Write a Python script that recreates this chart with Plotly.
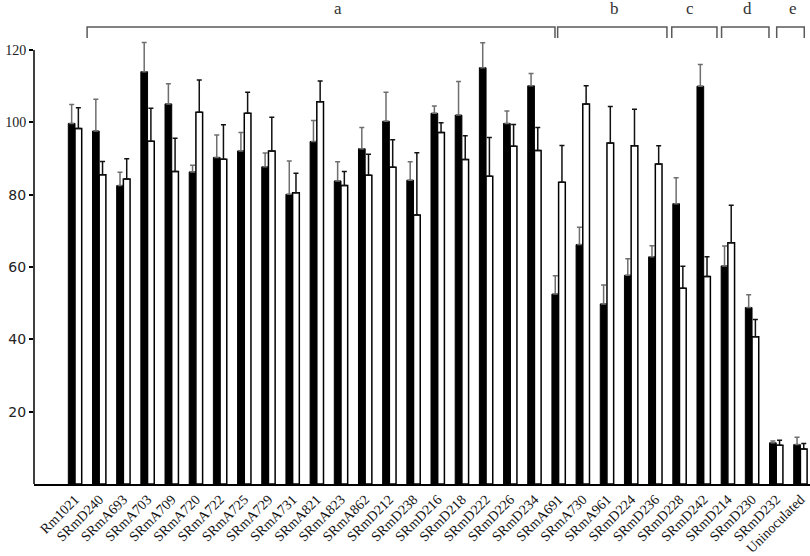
import plotly.graph_objects as go

categories = ["Rm1021", "SRmD240", "SRmA693", "SRmA703", "SRmA709", "SRmA720", "SRmA722",
              "SRmA725", "SRmA729", "SRmA731", "SRmA821", "SRmA823", "SRmA862", "SRmD212",
              "SRmD238", "SRmD216", "SRmD218", "SRmD222", "SRmD226", "SRmD234", "SRmA691",
              "SRmA730", "SRmA961", "SRmD224", "SRmD236", "SRmD228", "SRmD242", "SRmD214",
              "SRmD230", "SRmD232", "Uninoculated"]

black_vals = [99.7, 97.6, 82.5, 114.0, 105.1, 86.3, 90.3, 92.1, 87.7, 80.1, 94.7, 83.8, 92.7,
              100.3, 84.0, 102.5, 102.0, 115.1, 99.7, 110.1, 52.5, 66.2, 49.8, 57.7, 62.8,
              77.5, 110.0, 60.3, 48.8, 11.4, 10.9]
black_sd = [5.2, 8.8, 3.7, 8.1, 5.6, 1.8, 6.2, 5.1, 3.8, 9.2, 5.8, 5.3, 5.9, 8.0, 5.1, 2.0,
            9.3, 6.9, 3.4, 3.4, 5.1, 4.8, 5.2, 4.6, 3.1, 7.2, 6.0, 5.5, 3.5, 0.5, 2.0]
white_vals = [98.3, 85.5, 84.3, 94.8, 86.4, 102.8, 89.8, 102.5, 92.1, 80.5, 105.7, 82.5, 85.4,
              87.6, 74.4, 97.2, 89.7, 85.1, 93.4, 92.2, 83.4, 105.1, 94.3, 93.5, 88.5, 54.1,
              57.4, 66.7, 40.7, 10.7, 9.7]
white_sd = [5.7, 3.7, 5.6, 9.1, 9.2, 8.9, 9.5, 5.8, 9.3, 5.4, 5.7, 3.9, 5.8, 7.6, 17.2, 2.7,
            6.6, 10.7, 6.0, 6.4, 10.2, 5.0, 10.1, 10.1, 5.0, 6.1, 5.4, 10.4, 4.8, 1.4, 1.5]

y_ticks = [20, 40, 60, 80, 100, 120]

# significance groups: label, start index, end index, label position
group_labels = ["a", "b", "c", "d", "e"]
group_start = [0.50, 19.96, 24.68, 26.74, 29.02]
group_end = [19.85, 24.48, 26.55, 28.70, 30.16]
group_label_x = [10.88, 22.33, 25.43, 27.83, 29.70]

x_idx = list(range(len(categories)))

fig = go.Figure()
fig.add_trace(go.Bar(
    x=x_idx, y=black_vals,
    marker=dict(color="#000000", line=dict(color="#000000", width=1)),
    error_y=dict(type="data", symmetric=False, array=black_sd,
                 arrayminus=[0] * len(black_sd), color="#6e6e6e", thickness=1.5, width=2.5),
    showlegend=False,
))
fig.add_trace(go.Bar(
    x=x_idx, y=white_vals,
    marker=dict(color="#ffffff", line=dict(color="#000000", width=1.5)),
    error_y=dict(type="data", symmetric=False, array=white_sd,
                 arrayminus=[0] * len(white_sd), color="#111111", thickness=1.5, width=2.5),
    showlegend=False,
))

serif = "Liberation Serif, Times New Roman, serif"
sans = "DejaVu Sans, Noto Sans, sans-serif"
tick_text = []
for v in y_ticks:
    if v >= 100:
        tick_text.append('<span style="font-family:Liberation Serif">%d</span>' % v)
    else:
        tick_text.append(str(v))

shapes = []
for s, e in zip(group_start, group_end):
    shapes.append(dict(type="path", xref="x", yref="paper",
                       path="M %f,%f L %f,%f L %f,%f L %f,%f" % (s, 0.989, s, 1.0133, e, 1.0133, e, 0.989),
                       line=dict(color="#5a5a5a", width=1.5)))
# y axis line from 0 to 120
shapes.append(dict(type="line", xref="paper", yref="y", x0=0, x1=0, y0=0, y1=120,
                   line=dict(color="#000000", width=1.5)))

annotations = []
for lab, lx in zip(group_labels, group_label_x):
    annotations.append(dict(x=lx, y=1.055, xref="x", yref="paper", text=lab, showarrow=False,
                            font=dict(family=serif, size=17, color="#333333"),
                            xanchor="center", yanchor="middle"))

fig.update_layout(
    width=810, height=556,
    margin=dict(l=34, r=0, t=33, b=72),
    paper_bgcolor="white", plot_bgcolor="white",
    barmode="group", bargap=0.446, bargroupgap=0,
    shapes=shapes, annotations=annotations,
    xaxis=dict(range=[-1.696, 30.397], tickmode="array", tickvals=x_idx, ticktext=categories,
               tickangle=-45, tickfont=dict(family=serif, size=14, color="#111111"),
               showline=True, linecolor="#000000", linewidth=1.5, ticks="", showgrid=False,
               zeroline=False, automargin=False),
    yaxis=dict(range=[0, 124.7], tickmode="array", tickvals=y_ticks, ticktext=tick_text,
               tickfont=dict(family=sans, size=14, color="#222222"),
               ticks="outside", ticklen=4, tickwidth=1.5, tickcolor="#000000",
               showline=False, showgrid=False, zeroline=False, automargin=False),
)

fig.write_html("out.html", config={"displayModeBar": False},
               post_script="document.body.style.margin='0';")
